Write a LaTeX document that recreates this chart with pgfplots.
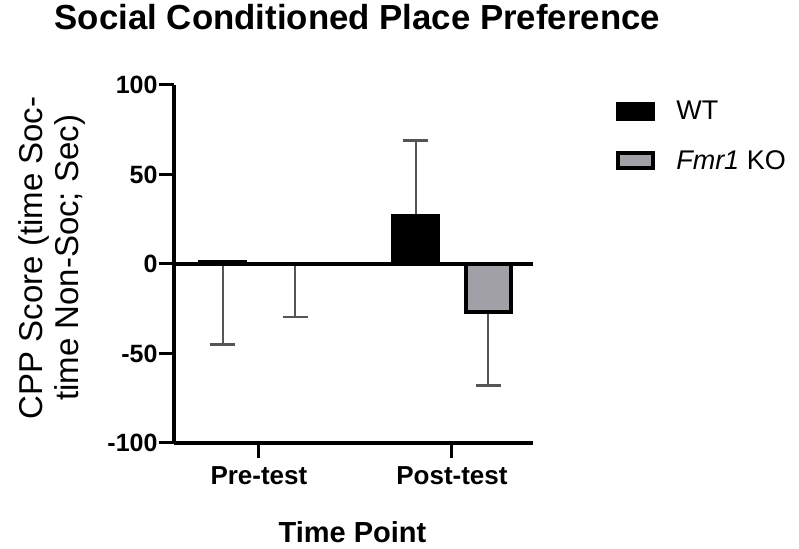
\documentclass[border=0pt]{standalone}
\usepackage{pgfplots}
\pgfplotsset{compat=1.18}
\usepackage{fontspec}
\setmainfont{Liberation Sans}
\definecolor{kogray}{RGB}{161,160,166}
\definecolor{errgray}{RGB}{85,85,85}
\begin{document}
\begin{tikzpicture}
\useasboundingbox (0,0) rectangle (799pt,548pt);
\begin{axis}[
  at={(174pt,105pt)}, anchor=south west,
  scale only axis, width=359pt, height=358pt,
  xmin=-0.44, xmax=1.42, ymin=-100, ymax=100,
  clip=false,
  axis x line=bottom, axis y line=left,
  axis line style={line width=3.5pt, -},
  xtick={0,1}, xticklabels={Pre-test,Post-test},
  ytick={-100,-50,0,50,100}, yticklabels={-100,-50,0,50,100},
  tick align=outside, major tick length=15pt,
  tick style={line width=3pt, black},
  xticklabel style={font=\bfseries\fontsize{26}{26}\selectfont, yshift=-5pt},
  yticklabel style={font=\bfseries\fontsize{25}{25}\selectfont, xshift=2pt},
  title={Social Conditioned Place Preference},
  title style={at={(axis description cs:0.511,1.137)}, anchor=base, font=\bfseries\fontsize{34.8}{36}\selectfont},
  xlabel={Time Point},
  xlabel style={at={(axis description cs:0.497,-0.279)}, anchor=base, font=\bfseries\fontsize{29}{30}\selectfont},
  ylabel={CPP Score (time Soc-\\time Non-Soc; Sec)},
  ylabel style={at={(axis description cs:-0.34,0.517)}, anchor=center, align=center, font=\fontsize{33}{36}\selectfont},
  legend style={at={(axis description cs:1.223,0.961)}, anchor=north west, draw=none, fill=none,
    font=\fontsize{27}{27}\selectfont, nodes={inner sep=0pt}, row sep=29pt,
    /tikz/every odd column/.append style={column sep=21pt}},
  legend cell align=left,
]
% error bars (drawn first, bars on top)
\addplot[draw=none, forget plot, error bars/.cd, y dir=minus, y explicit,
  error bar style={draw=errgray, line width=2pt},
  error mark options={rotate=90, draw=errgray, line width=2.5pt, mark size=12.5pt}]
  coordinates {(-0.1885,1) +- (0,46) (0.1885,0) +- (0,29.6) (1.1885,-26.6) +- (0,41.4)};
\addplot[draw=none, forget plot, error bars/.cd, y dir=plus, y explicit,
  error bar style={draw=errgray, line width=2pt},
  error mark options={rotate=90, draw=errgray, line width=2.5pt, mark size=12.5pt}]
  coordinates {(0.8115,27) +- (0,41.9)};
% bars
\addplot[ybar, bar width=0.232, bar shift=-0.1885, fill=black, draw=black, line width=4pt,
  legend image code/.code={\draw[fill=black, draw=black, line width=4pt] (2pt,-7.5pt) rectangle (37pt,7.5pt);}]
  coordinates {(0,1) (1,27)};
\addlegendentry{WT}
\addplot[ybar, bar width=0.232, bar shift=0.1885, fill=kogray, draw=black, line width=4pt,
  legend image code/.code={\draw[fill=kogray, draw=black, line width=4pt] (2pt,-7.5pt) rectangle (37pt,7.5pt);}]
  coordinates {(0,0) (1,-26.6)};
\addlegendentry{\textit{Fmr1} KO}
\draw[line width=3.5pt, black] (axis cs:-0.44,0) -- (axis cs:1.42,0);
\end{axis}
\end{tikzpicture}
\end{document}
